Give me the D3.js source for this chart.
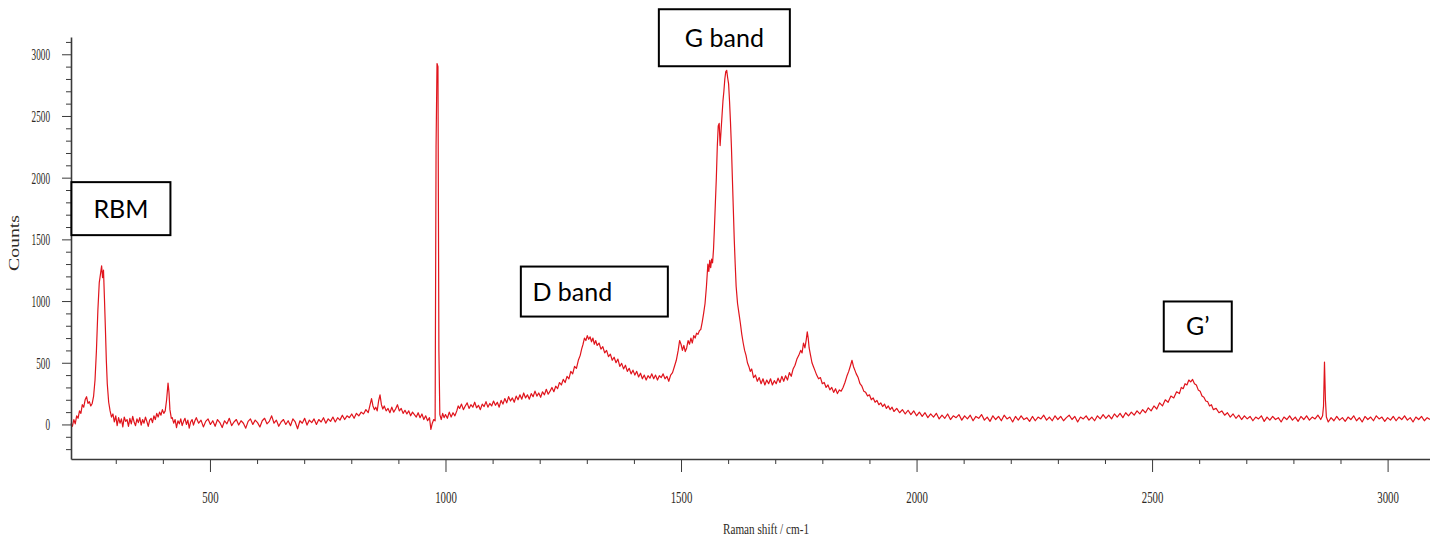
<!DOCTYPE html>
<html>
<head>
<meta charset="utf-8">
<script src="https://cdn.jsdelivr.net/npm/d3@7"></script>
<style>
  body { margin: 0; background: #fff; }
  svg { display: block; }
  .tick text { font-family: "Liberation Serif", "DejaVu Serif", serif; fill: #2e2a25; }
  .note text { font-family: Lato, "Open Sans", sans-serif; fill: #000; }
</style>
</head>
<body>
<svg id="chart" width="1430" height="537"></svg>
<script>
// spectrum, [raman shift cm-1, counts]
const rbmRegion = [[205,10],[208,-15],[211,40],[214,5],[217,70],[220,50],[223,110],[226,90],[229,160],[232,140],[235,200],[238,225],[241,170],[244,185],[247,150],[250,170],[253,230],[256,360],[259,600],[262,920],[265,1150],[268,1230],[270,1285],[272,1190],[274,1250],[276,1020],[278,780],[280,520],[282,330],[285,180],[288,110],[291,60],[294,85],[297,20],[300,70],[303,-10],[306,55],[309,10],[312,45],[315,-20],[318,60],[321,25],[324,40],[327,-15],[330,50],[333,5],[336,65],[339,20],[342,-10],[345,45],[348,15],[351,55],[354,-5],[357,40],[360,10],[363,60],[366,25],[369,-15],[372,35],[375,50],[378,15],[381,70],[384,40],[387,90],[390,60],[393,100],[396,75],[399,120],[402,90],[405,110],[408,200],[411,335],[413,260],[415,120],[418,50],[420,55],[423,10],[426,40],[429,-25],[432,30],[435,5],[438,45],[441,-10],[444,25],[447,50],[450,0],[453,35],[456,-30],[459,20],[462,40],[465,-5],[468,30]];

const midRegion = [[471,55],[476,10],[481,35],[486,-20],[491,25],[496,45],[501,0],[506,30],[511,-15],[516,40],[521,15],[526,-25],[531,30],[536,5],[541,50],[546,-10],[551,20],[556,40],[561,-5],[566,30],[571,10],[576,-30],[581,25],[586,45],[591,0],[596,35],[601,15],[606,-20],[611,30],[616,50],[621,5],[626,25],[631,70],[636,10],[641,35],[646,-15],[651,20],[656,40],[661,0],[666,30],[671,-10],[676,45],[681,20],[686,-35],[691,30],[696,10],[701,50],[706,-5],[711,35],[716,15],[721,45],[726,0],[731,40],[736,20],[741,55],[746,10],[751,45],[756,25],[761,60],[766,20],[771,55],[776,35],[781,75],[786,40],[791,70],[796,55],[801,85],[806,50],[811,90],[816,70],[821,100],[826,85],[831,120],[836,95],[840,160],[843,210],[846,150],[849,120],[852,140],[855,110],[858,190],[861,240],[864,160],[867,125],[870,150],[874,110],[878,130],[882,95],[886,140],[890,100],[894,125],[898,160],[902,110],[906,130],[910,90],[914,115],[918,85],[922,110],[926,70],[930,100],[934,80],[938,60],[942,95],[946,55],[950,85],[954,40],[958,70],[962,30],[966,55],[969,-40],[972,10],[975,40],[978,30],[980,2250],[982,2925],[984,2900],[986,600],[988,80],[991,40],[994,90],[997,55]];

const bandRegion = [[1000,80],[1004,50],[1008,100],[1012,60],[1016,95],[1020,70],[1024,110],[1027,150],[1030,130],[1034,165],[1038,120],[1042,150],[1046,175],[1050,130],[1054,160],[1058,140],[1062,180],[1066,135],[1070,155],[1074,120],[1078,165],[1082,145],[1086,185],[1090,140],[1094,170],[1098,150],[1102,190],[1106,155],[1110,180],[1114,140],[1118,195],[1122,165],[1126,210],[1130,175],[1134,225],[1138,190],[1142,215],[1146,180],[1150,230],[1154,200],[1158,240],[1162,205],[1166,255],[1170,215],[1174,240],[1178,205],[1182,250],[1186,225],[1190,270],[1194,230],[1198,255],[1202,220],[1206,265],[1210,240],[1214,285],[1218,245],[1222,270],[1226,300],[1230,265],[1234,310],[1238,290],[1242,340],[1246,320],[1250,365],[1254,340],[1258,390],[1262,370],[1266,430],[1270,410],[1274,470],[1278,455],[1282,520],[1286,560],[1289,610],[1292,650],[1295,700],[1298,680],[1301,720],[1304,690],[1307,710],[1310,670],[1313,700],[1316,650],[1319,680],[1322,640],[1326,660],[1330,610],[1334,630],[1338,580],[1342,600],[1346,550],[1350,570],[1354,520],[1358,545],[1362,500],[1366,530],[1370,470],[1374,495],[1378,450],[1382,480],[1386,430],[1390,455],[1394,410],[1398,440],[1402,400],[1406,430],[1410,385],[1414,415],[1418,370],[1422,400],[1426,360],[1430,395],[1434,375],[1438,410],[1442,370],[1446,400],[1450,360],[1454,395],[1458,380],[1462,410],[1466,370],[1470,390],[1474,350],[1478,400],[1482,420],[1486,470],[1490,520],[1494,600],[1497,680],[1500,650],[1503,600],[1506,640],[1509,590],[1512,620],[1515,680],[1518,650],[1521,700],[1524,660],[1527,720],[1530,700],[1533,740],[1536,730],[1539,760],[1542,770],[1545,830],[1548,900],[1551,980],[1554,1120],[1557,1300],[1559,1240],[1561,1330],[1563,1270],[1565,1340],[1567,1310],[1569,1420],[1571,1600],[1573,1800],[1575,2000],[1577,2250],[1579,2420],[1581,2440],[1583,2260],[1585,2380],[1587,2500],[1589,2620],[1591,2700],[1593,2800],[1595,2860],[1597,2870],[1599,2810],[1601,2760],[1603,2620],[1605,2450],[1607,2250],[1609,2000],[1611,1750],[1613,1500],[1615,1300],[1617,1120],[1620,980],[1623,900],[1626,820],[1629,730],[1632,660],[1635,600],[1638,560],[1641,500],[1644,470],[1647,430],[1650,450],[1654,380],[1658,400],[1662,350],[1666,380],[1670,330],[1674,370],[1678,320],[1682,360],[1686,330],[1690,370],[1694,320],[1698,355],[1702,330],[1706,375],[1710,340],[1714,390],[1718,350],[1722,395],[1726,360],[1730,420],[1734,390],[1738,450],[1742,480],[1746,530],[1750,560],[1754,600],[1757,580],[1760,660],[1763,620],[1766,690],[1768,750],[1770,700],[1772,620],[1775,560],[1778,500],[1781,470],[1784,440],[1788,400],[1792,370],[1796,380],[1800,330],[1804,340],[1808,300],[1812,320],[1816,280],[1820,300],[1824,260],[1828,290],[1832,250],[1836,280],[1840,270],[1844,300],[1848,340],[1852,390],[1856,430],[1860,480],[1863,520],[1866,470],[1869,440],[1872,410],[1876,380],[1880,330],[1884,310],[1888,270],[1892,260],[1896,230],[1900,240],[1904,200],[1908,215],[1912,180],[1916,195],[1920,160],[1924,175],[1928,145],[1932,165],[1936,130],[1940,150],[1944,120],[1948,140]];

const highRegion = [[1952,105],[1958,130],[1964,95],[1970,120],[1976,85],[1982,115],[1988,80],[1994,110],[2000,70],[2006,100],[2012,65],[2018,95],[2024,55],[2030,85],[2036,60],[2042,90],[2048,45],[2054,75],[2060,50],[2066,85],[2072,40],[2078,70],[2084,55],[2090,80],[2096,35],[2102,70],[2108,45],[2114,75],[2120,30],[2126,65],[2132,50],[2138,80],[2144,35],[2150,60],[2156,25],[2162,70],[2168,40],[2174,65],[2180,30],[2186,75],[2192,45],[2198,60],[2204,20],[2210,65],[2216,35],[2222,70],[2228,40],[2234,55],[2240,25],[2246,65],[2252,30],[2258,60],[2264,45],[2270,75],[2276,35],[2282,60],[2288,30],[2294,70],[2300,40],[2306,65],[2312,30],[2318,55],[2324,75],[2330,40],[2336,65],[2342,20],[2348,60],[2354,45],[2360,70],[2366,35],[2372,60],[2378,30],[2384,70],[2390,45],[2396,80],[2402,50],[2408,75],[2414,45],[2420,85],[2426,60],[2432,90],[2438,55],[2444,95],[2450,70],[2456,100],[2462,75],[2468,110],[2474,85],[2480,120],[2486,95],[2492,135],[2498,110],[2504,150],[2510,125],[2516,175],[2522,150],[2528,200],[2534,180],[2540,230],[2546,215],[2552,265],[2558,250],[2562,300],[2566,290],[2570,330],[2574,320],[2578,360],[2582,345],[2586,365],[2590,330],[2594,320],[2598,280],[2602,270],[2606,230],[2610,220],[2614,190],[2618,185],[2622,150],[2626,160],[2630,120],[2636,130],[2642,95],[2648,110],[2654,75],[2660,95],[2666,60],[2672,85],[2678,50],[2684,75],[2690,40],[2696,70],[2702,45],[2708,65],[2714,30],[2720,60],[2726,45],[2732,70],[2738,25],[2744,60],[2750,35],[2756,65],[2762,40],[2768,55],[2774,20],[2780,60],[2786,40],[2792,70],[2798,35],[2804,60],[2810,25],[2816,65],[2822,40],[2828,70],[2834,35],[2840,60],[2846,45],[2852,75],[2858,40],[2862,70],[2864,150],[2866,505],[2868,200],[2870,60],[2874,20],[2880,55],[2886,30],[2892,65],[2898,35],[2904,55],[2910,25],[2916,60],[2922,40],[2928,70],[2934,30],[2940,55],[2946,20],[2952,65],[2958,40],[2964,60],[2970,30],[2976,70],[2982,45],[2988,60],[2994,25],[3000,55],[3006,35],[3012,65],[3018,30],[3024,60],[3030,40],[3036,70],[3042,35],[3048,55],[3054,20],[3060,60],[3066,40],[3072,65],[3078,30],[3084,55],[3090,40]];

const xMajorTicks = [500, 1000, 1500, 2000, 2500, 3000];
const yMajorTicks = [0, 500, 1000, 1500, 2000, 2500, 3000];

// band labels, anchored at [shift, counts] of the box centre
const bandLabels = [
  {text: "RBM", shift: 311, counts: 1749},
  {text: "G band", shift: 1592, counts: 3134},
  {text: "D band", shift: 1316, counts: 1077},
  {text: "G\u2019", shift: 2597, counts: 794}
];
const boxSizes = {"RBM": [99, 53, 0], "G band": [131, 57, 0], "D band": [147, 50, -22], "G\u2019": [68, 50, 0]};

const spectrum = rbmRegion.concat(midRegion, bandRegion, highRegion);

const svg = d3.select("#chart");
const plotLeft = 71, plotRight = 1430, plotTop = 37, plotBottom = 459;

const x = d3.scaleLinear().domain([205, 3090]).range([plotLeft, plotRight]);
const y = d3.scaleLinear().domain([-280, 3140]).range([plotBottom, plotTop]);

// spectrum line (under the axes)
const line = d3.line().x(d => x(d[0])).y(d => y(d[1]));
svg.append("path")
  .datum(spectrum)
  .attr("fill", "none")
  .attr("stroke", "#e0141c")
  .attr("stroke-width", 1.2)
  .attr("stroke-linejoin", "round")
  .attr("d", line);

// x axis: minor + major ticks
const xMinor = d3.range(300, 3100, 100).filter(v => v % 500 !== 0);
svg.append("g")
  .attr("transform", `translate(0,${plotBottom})`)
  .call(d3.axisBottom(x).tickValues(xMinor).tickSize(5).tickFormat(""))
  .call(g => g.select(".domain").remove());
const gx = svg.append("g")
  .attr("transform", `translate(0,${plotBottom})`)
  .call(d3.axisBottom(x).tickValues(xMajorTicks).tickSize(13).tickPadding(19).tickSizeOuter(0).tickFormat(d3.format("d")));
gx.selectAll("text")
  .style("font-size", "17px")
  .attr("textLength", d => String(d).length * 5.4)
  .attr("lengthAdjust", "spacingAndGlyphs");

// y axis
const yMinor = d3.range(-200, 3200, 100).filter(v => v % 500 !== 0);
svg.append("g")
  .attr("transform", `translate(${plotLeft},0)`)
  .call(d3.axisLeft(y).tickValues(yMinor).tickSize(5).tickFormat(""))
  .call(g => g.select(".domain").remove());
const gy = svg.append("g")
  .attr("transform", `translate(${plotLeft},0)`)
  .call(d3.axisLeft(y).tickValues(yMajorTicks).tickSize(9).tickPadding(12).tickSizeOuter(0).tickFormat(d3.format("d")));
gy.selectAll("text")
  .style("font-size", "17px")
  .attr("textLength", d => String(d).length * 4.6)
  .attr("lengthAdjust", "spacingAndGlyphs");

svg.selectAll(".domain, .tick line").attr("stroke", "#3a3a3a");
svg.selectAll(".domain").attr("stroke-width", 1.6);

// axis titles
svg.append("text")
  .attr("x", 766).attr("y", 534)
  .attr("text-anchor", "middle")
  .attr("textLength", 86).attr("lengthAdjust", "spacingAndGlyphs")
  .style("font-family", "Liberation Serif, serif").style("font-size", "15px").style("fill", "#2e2a25")
  .text("Raman shift / cm-1");
svg.append("text")
  .attr("transform", "translate(19,243) rotate(-90)")
  .attr("text-anchor", "middle")
  .attr("textLength", 56).attr("lengthAdjust", "spacingAndGlyphs")
  .style("font-family", "Liberation Serif, serif").style("font-size", "15px").style("fill", "#2e2a25")
  .text("Counts");

// band label boxes
const notes = svg.selectAll("g.note")
  .data(bandLabels)
  .enter()
  .append("g")
  .classed("note", true)
  .attr("transform", d => `translate(${x(d.shift)},${y(d.counts)})`);
notes.append("rect")
  .attr("x", d => -boxSizes[d.text][0] / 2)
  .attr("y", d => -boxSizes[d.text][1] / 2)
  .attr("width", d => boxSizes[d.text][0])
  .attr("height", d => boxSizes[d.text][1])
  .attr("fill", "#fff")
  .attr("stroke", "#000")
  .attr("stroke-width", 2);
notes.append("text")
  .attr("x", d => boxSizes[d.text][2])
  .attr("dy", "0.36em")
  .attr("text-anchor", "middle")
  .style("font-size", "25px")
  .text(d => d.text);
</script>
</body>
</html>
